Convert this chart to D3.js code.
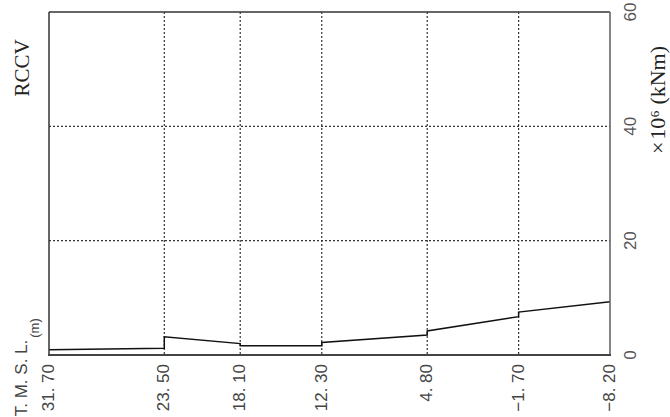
<!DOCTYPE html>
<html>
<head>
<meta charset="utf-8">
<script src="https://cdn.jsdelivr.net/npm/d3@7"></script>
<style>
  html, body { margin: 0; padding: 0; background: #fff; }
  svg { display: block; }
</style>
</head>
<body>
<div id="chart"></div>
<script>
// ---- data ----
const elevations = [31.70, 23.50, 18.10, 12.30, 4.80, -1.70, -8.20];
const elevLabels = ["31. 70", "23. 50", "18. 10", "12. 30", "4. 80", "\u22121. 70", "\u22128. 20"];
// each segment runs from elevations[i] to elevations[i+1]
const segStartValues = [0.9, 3.2, 1.6, 2.2, 4.2, 7.5];
const segEndValues   = [1.2, 2.0, 1.6, 3.5, 6.7, 9.3];
const valueTicks = [0, 20, 40, 60];
const seriesName = "RCCV";
const valueTitle = "\u00d7\u200a10\u2076 (kNm)";
const elevTitle = "T. M. S. L.";
const elevUnit = "(m)";

const W = 670, H = 417;
const mLeft = 49, mRight = 610, mTop = 12, mBottom = 355;

const svg = d3.select("#chart").append("svg").attr("width", W).attr("height", H);

const x = d3.scaleLinear().domain([elevations[0], elevations[elevations.length - 1]]).range([mLeft, mRight]);
const y = d3.scaleLinear().domain([0, 60]).range([mBottom, mTop]);

const sans = "'Liberation Sans Narrow', 'Liberation Sans', Arial, sans-serif";
const serif = "'Liberation Serif', 'Times New Roman', serif";

// grid lines
svg.append("g").selectAll("line")
  .data(elevations.slice(1, -1))
  .join("line")
  .attr("x1", d => x(d)).attr("x2", d => x(d))
  .attr("y1", mTop).attr("y2", mBottom)
  .attr("stroke", "#333").attr("stroke-width", 1.2).attr("stroke-dasharray", "2,2");

svg.append("g").selectAll("line")
  .data(valueTicks.slice(1, -1))
  .join("line")
  .attr("x1", mLeft).attr("x2", mRight)
  .attr("y1", d => y(d)).attr("y2", d => y(d))
  .attr("stroke", "#333").attr("stroke-width", 1.2).attr("stroke-dasharray", "2,2");

// series line (piecewise with jumps)
const pts = [];
segStartValues.forEach((v, i) => {
  pts.push([elevations[i], v]);
  pts.push([elevations[i + 1], segEndValues[i]]);
});
const line = d3.line().x(d => x(d[0])).y(d => y(d[1]));
svg.append("path").datum(pts)
  .attr("d", line)
  .attr("fill", "none").attr("stroke", "#111").attr("stroke-width", 1.5);

// frame
svg.append("line").attr("x1", mLeft).attr("x2", mRight).attr("y1", mTop).attr("y2", mTop)
  .attr("stroke", "#333").attr("stroke-width", 1.5);
svg.append("line").attr("x1", mLeft).attr("x2", mLeft).attr("y1", mTop).attr("y2", mBottom)
  .attr("stroke", "#333").attr("stroke-width", 1.5);
svg.append("line").attr("x1", mRight).attr("x2", mRight).attr("y1", mTop).attr("y2", mBottom + 1)
  .attr("stroke", "#666").attr("stroke-width", 1.6);
svg.append("line").attr("x1", mLeft - 1).attr("x2", mRight + 1).attr("y1", mBottom).attr("y2", mBottom)
  .attr("stroke", "#444").attr("stroke-width", 2.2);

// bottom labels (elevation), rotated
svg.append("g").selectAll("text")
  .data(elevations)
  .join("text")
  .attr("transform", d => `translate(${x(d) - 1},364) rotate(-90)`)
  .attr("text-anchor", "end")
  .attr("dy", "0.35em")
  .attr("font-family", sans).attr("font-size", 17)
  .attr("fill", "#444")
  .text((d, i) => elevLabels[i]);

svg.append("text")
  .attr("transform", "translate(21,378) rotate(-90)")
  .attr("text-anchor", "middle").attr("dy", "0.35em")
  .attr("font-family", sans).attr("font-size", 17)
  .attr("fill", "#444")
  .text(elevTitle);

svg.append("text")
  .attr("transform", "translate(34,328) rotate(-90)")
  .attr("text-anchor", "middle").attr("dy", "0.35em")
  .attr("font-family", sans).attr("font-size", 13)
  .attr("fill", "#444")
  .text(elevUnit);

// right labels (values), rotated
svg.append("g").selectAll("text")
  .data(valueTicks)
  .join("text")
  .attr("transform", d => `translate(630,${y(d)}) rotate(-90)`)
  .attr("text-anchor", "middle").attr("dy", "0.35em")
  .attr("font-family", sans).attr("font-size", 17)
  .attr("fill", "#555")
  .text(d => d);

// value axis title
svg.append("text")
  .attr("transform", "translate(657,100) rotate(-90)")
  .attr("text-anchor", "middle").attr("dy", "0.35em")
  .attr("font-family", serif).attr("font-size", 22)
  .attr("fill", "#222")
  .text(valueTitle);

// series name
svg.append("text")
  .attr("transform", "translate(22,68) rotate(-90)")
  .attr("text-anchor", "middle").attr("dy", "0.35em")
  .attr("font-family", serif).attr("font-size", 21)
  .attr("fill", "#222")
  .text(seriesName);
</script>
</body>
</html>
